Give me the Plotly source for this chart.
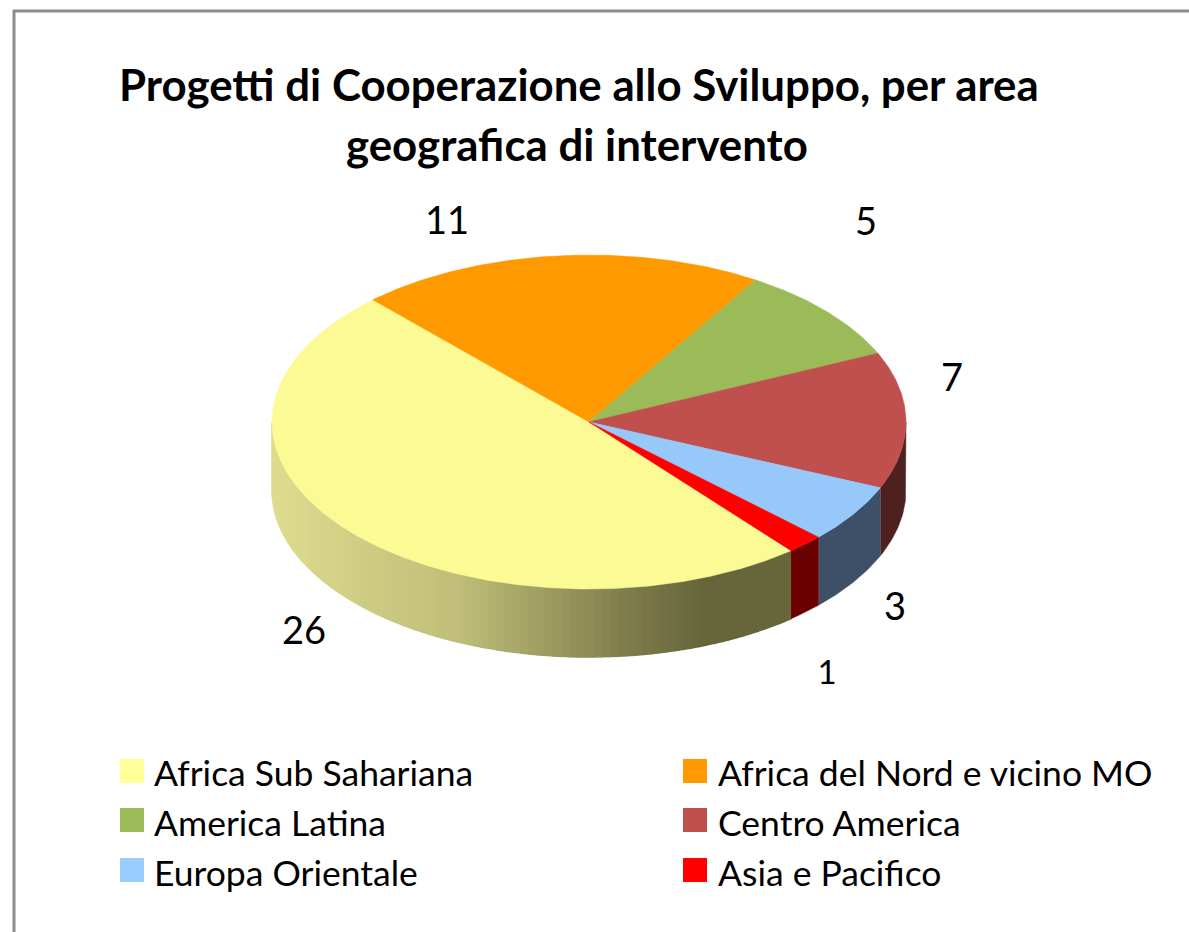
import math
import plotly.graph_objects as go

categories = ["Africa Sub Sahariana", "Africa del Nord e vicino MO", "America Latina",
              "Centro America", "Europa Orientale", "Asia e Pacifico"]
values = [26, 11, 5, 7, 3, 1]
top_colors = ["#FCFA94", "#FF9900", "#9BBB59", "#C0504D", "#96C8FA", "#FF0000"]
side_colors = [None, "#7F4C00", "#4E5D2C", "#4E2020", "#3E5068", "#6B0000"]
legend_colors = ["#FFFF99", "#FF9900", "#9BBB59", "#C0504D", "#99CCFF", "#FF0000"]
title_lines = ["Progetti di Cooperazione allo Sviluppo, per area", "geografica di intervento"]

# pie geometry (pixels on the hidden axes)
CX, CY, RX, RY, DEPTH = 589, 422, 317, 167, 68
START = -50.4  # parametric angle where the first slice begins, running clockwise
yellow_stops = [(272, (222, 220, 142)), (460, (191, 189, 120)), (626, (127, 125, 76)),
                (700, (102, 102, 58)), (800, (102, 102, 58))]
label_pos = [(304, 634, 38), (447, 224, 38), (866, 225, 38), (952, 381, 38), (895, 610, 38), (827, 676, 33)]
swatch_pos = [(132, 771), (695, 771), (132, 820), (695, 820), (132, 870), (695, 870)]
legend_text_x = [154, 718, 154, 718, 154, 718]
legend_text_y = [777, 777, 827, 827, 877, 877]
FONT = "Lato"

fig = go.Figure()


def pt(a, dy=0):
    r = math.radians(a)
    return CX + RX * math.cos(r), CY - RY * math.sin(r) + dy


def poly(xs, ys, color, w=0.5):
    fig.add_trace(go.Scatter(x=xs, y=ys, mode="lines", fill="toself", fillcolor=color,
                             line=dict(color=color, width=w), hoverinfo="skip", showlegend=False))


def arc(a0, a1, dy=0):
    n = max(2, int(abs(a1 - a0) * 2))
    return [pt(a0 + (a1 - a0) * i / n, dy) for i in range(n + 1)]


def mix(x):
    for (x0, c0), (x1, c1) in zip(yellow_stops, yellow_stops[1:]):
        if x <= x1:
            t = max(0, (x - x0) / (x1 - x0))
            return "rgb(%d,%d,%d)" % tuple(round(u + (v - u) * t) for u, v in zip(c0, c1))
    return "rgb(102,102,58)"


total = sum(values)
spans = []
a = START
for v in values:
    b = a - v / total * 360
    spans.append((a, b))
    a = b

# visible front wall: only the lower half of the ellipse
for i, (a0, a1) in enumerate(spans):
    for lo, hi in [(a1, a0), (a1 + 360, a0 + 360), (a1 - 360, a0 - 360)]:
        s0, s1 = max(lo, -180), min(hi, 0)
        if s0 >= s1:
            continue
        if side_colors[i] is None:
            steps = int((s1 - s0) / 1.5) + 1
            for k in range(steps):
                u0 = s0 + (s1 - s0) * k / steps
                u1 = s0 + (s1 - s0) * (k + 1) / steps
                p = arc(u0, u1)
                q = arc(u1, u0, DEPTH)
                poly([c[0] for c in p + q], [c[1] for c in p + q], mix((p[0][0] + p[-1][0]) / 2), 1.5)
        else:
            p = arc(s0, s1)
            q = arc(s1, s0, DEPTH)
            poly([c[0] for c in p + q], [c[1] for c in p + q], side_colors[i])

# top faces
for (a0, a1), c in zip(spans, top_colors):
    p = arc(a0, a1)
    poly([CX] + [u[0] for u in p] + [CX], [CY] + [u[1] for u in p] + [CY], c)

# value labels
for v, (x, y, s) in zip(values, label_pos):
    fig.add_trace(go.Scatter(x=[x], y=[y], mode="text", text=[str(v)], textposition="middle center",
                             textfont=dict(family=FONT, size=s, color="#000000"),
                             hoverinfo="skip", showlegend=False))

# legend
for name, c, (x, y), tx, ty in zip(categories, legend_colors, swatch_pos, legend_text_x, legend_text_y):
    fig.add_trace(go.Scatter(x=[x], y=[y], mode="markers",
                             marker=dict(symbol="square", size=24, color=c, line=dict(width=0)),
                             hoverinfo="skip", showlegend=False))
    fig.add_trace(go.Scatter(x=[tx], y=[ty], mode="text", text=[name], textposition="middle right",
                             textfont=dict(family=FONT, size=35.5, color="#000000"),
                             hoverinfo="skip", showlegend=False))

for line, x, y in zip(title_lines, (579, 576.5), (84, 144)):
    fig.add_annotation(x=x, y=y, xref="x", yref="y", text="<b>%s</b>" % line, showarrow=False,
                       font=dict(family=FONT, size=43.8, color="#000000"))

fig.update_layout(
    width=1189, height=932, margin=dict(l=0, r=0, t=0, b=0),
    paper_bgcolor="white", plot_bgcolor="white", showlegend=False,
    xaxis=dict(visible=False, range=[0, 1189], fixedrange=True),
    yaxis=dict(visible=False, range=[932, 0], fixedrange=True),
    shapes=[dict(type="line", x0=14, x1=14, y0=10, y1=932, line=dict(color="#8C8C8C", width=3), layer="below"),
            dict(type="line", x0=13, x1=1189, y0=11, y1=11, line=dict(color="#8C8C8C", width=3), layer="below")],
)
fig.write_html("out.html", config={"displayModeBar": False},
               post_script="document.body.style.margin='0';document.body.style.overflow='hidden';")
